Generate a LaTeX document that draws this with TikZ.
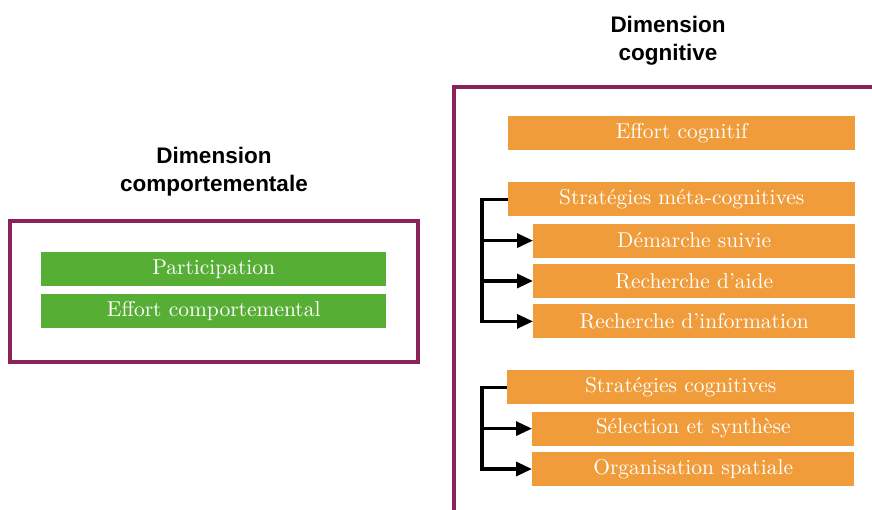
\documentclass[tikz,border=0pt]{standalone}
\usepackage{fontspec}
\newfontfamily\titlefont{Liberation Sans}
\newfontfamily\boxfont{lmroman10-regular}[Extension=.otf]
\usetikzlibrary{positioning,arrows.meta}
\definecolor{frameplum}{RGB}{138,36,88}
\definecolor{boxgreen}{RGB}{86,174,52}
\definecolor{boxorange}{RGB}{240,156,58}
\tikzset{
  frame/.style = {draw=frameplum, line width=3.5pt},
  title/.style = {align=center, font=\titlefont\bfseries\fontsize{22.5}{28}\selectfont},
  item/.style = {text=white, minimum height=34pt, inner sep=0pt, font=\boxfont\fontsize{21.5}{24}\selectfont},
  greenbox/.style = {item, fill=boxgreen, minimum width=345pt},
  mainbox/.style = {item, fill=boxorange, minimum width=347pt},
  subbox/.style = {item, fill=boxorange, minimum width=322pt},
  link/.style = {line width=3.2pt, -{Triangle[length=16pt,width=14pt]}}
}
\begin{document}
\begin{tikzpicture}[x=1pt, y=-1pt]
  \clip (0,0) rectangle (872,510);
  % behavioural side
  \node[title] (tcomp) at (214,172) {Dimension\\comportementale};
  \draw[frame] (10,221) rectangle (418,362);
  \node[greenbox, anchor=north west] (part) at (41,252) {Participation};
  \node[greenbox, below=7pt of part] (effcomp) {Effort comportemental};
  % cognitive side
  \node[title] (tcog) at (668,41) {Dimension\\cognitive};
  \draw[frame] (454,87) rectangle (920,560);
  \node[mainbox, anchor=north west] (effcog) at (508,116) {Effort cognitif};
  \node[mainbox, anchor=north west] (meta) at (508,182) {Stratégies méta-cognitives};
  \node[subbox, below=7pt of meta.south east, anchor=north east] (demarche) {Démarche suivie};
  \node[subbox, below=6pt of demarche] (aide) {Recherche d’aide};
  \node[subbox, below=6pt of aide] (info) {Recherche d’information};
  \node[mainbox, anchor=north west] (cogn) at (507,370) {Stratégies cognitives};
  \node[subbox, below=7pt of cogn.south east, anchor=north east] (select) {Sélection et synthèse};
  \node[subbox, below=6pt of select] (orga) {Organisation spatiale};
  % brackets
  \draw[link] (meta.west) -- ++(-26,0) coordinate (m1) |- (info.west);
  \draw[link] (m1 |- demarche.west) -- (demarche.west);
  \draw[link] (m1 |- aide.west) -- (aide.west);
  \draw[link] (cogn.west) -- ++(-25,0) coordinate (m2) |- (orga.west);
  \draw[link] (m2 |- select.west) -- (select.west);
\end{tikzpicture}
\end{document}
